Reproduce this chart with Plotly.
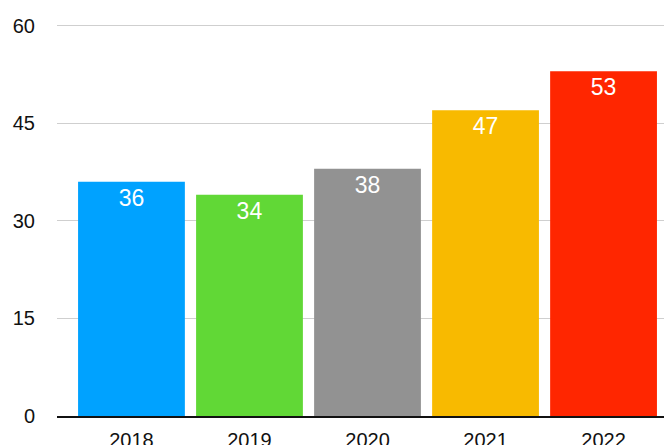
import plotly.graph_objects as go

years = ["2018", "2019", "2020", "2021", "2022"]
values = [36, 34, 38, 47, 53]
bar_colors = ["#00A2FF", "#61D836", "#929292", "#F8BA00", "#FF2600"]
y_ticks = [0, 15, 30, 45, 60]

# page body adds an 8px offset, so the figure is sized to the visible part
fig = go.Figure(go.Bar(
    x=years,
    y=values,
    marker=dict(color=bar_colors, line=dict(width=0)),
    text=[str(v) for v in values],
    textposition="inside",
    insidetextanchor="end",
    textfont=dict(color="white", size=23, family="Liberation Sans, Arial, sans-serif"),
    textangle=0,
    hoverinfo="skip",
))

fig.update_layout(
    width=664,
    height=437,
    margin=dict(l=49, r=0, t=8, b=29),
    plot_bgcolor="white",
    paper_bgcolor="white",
    bargap=0.095,
    showlegend=False,
    font=dict(family="Liberation Sans, Arial, sans-serif", size=20, color="#111111"),
)

fig.update_xaxes(
    type="category",
    range=[-0.631, 4.58],
    showgrid=False,
    showline=True,
    linecolor="#111111",
    linewidth=1.5,
    ticks="",
    ticklabelstandoff=5,
    tickfont=dict(size=20),
    automargin=False,
)

fig.update_yaxes(
    range=[0, 61.48],
    tickvals=y_ticks,
    showgrid=True,
    gridcolor="#cfcfcf",
    gridwidth=1,
    zeroline=False,
    showline=False,
    ticks="",
    ticklabelstandoff=21,
    tickfont=dict(size=20),
    automargin=False,
)

fig.write_html("out.html")
